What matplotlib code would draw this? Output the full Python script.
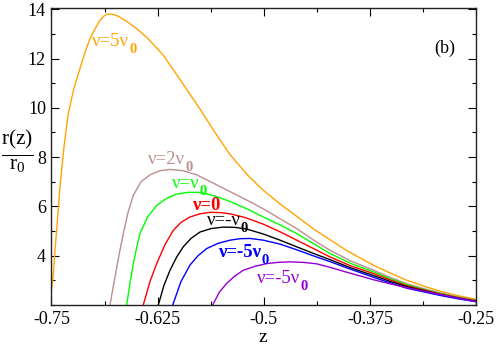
import matplotlib
matplotlib.use("Agg")
import matplotlib.pyplot as plt
from matplotlib.ticker import MultipleLocator, FixedLocator

plt.rcParams['font.family'] = ['Liberation Serif', 'DejaVu Serif']
plt.rcParams['mathtext.fontset'] = 'custom'
plt.rcParams['mathtext.rm'] = 'Liberation Serif'
plt.rcParams['mathtext.it'] = 'Liberation Serif:italic'
plt.rcParams['mathtext.bf'] = 'Liberation Serif:bold'

# ---- data ----
z_5 = [-0.75, -0.7479, -0.7459, -0.7439, -0.7420, -0.7400, -0.7353, -0.7306, -0.7235,
       -0.7164, -0.7105, -0.7047, -0.6988, -0.6929, -0.6880, -0.6846, -0.6780, -0.6717,
       -0.6611, -0.6493, -0.6375, -0.6281, -0.6187, -0.5986, -0.5751, -0.5574, -0.5397,
       -0.5185, -0.5005, -0.4808, -0.4612, -0.4420, -0.4220, -0.4019, -0.3713, -0.3513,
       -0.3313, -0.3101, -0.2924, -0.2712, -0.25]
r_5 = [2.6, 3.2, 4.2, 5.03, 5.9, 6.8, 8.4, 9.7, 10.8,
       11.6, 12.25, 12.8, 13.2, 13.55, 13.73, 13.8, 13.8, 13.72,
       13.5, 13.2, 12.85, 12.5, 12.15, 11.15, 9.95, 9.0, 8.1,
       7.25, 6.65, 6.1, 5.6, 5.1, 4.65, 4.2, 3.62, 3.3,
       3.0, 2.75, 2.56, 2.38, 2.23]

z_2 = [-0.6811, -0.6752, -0.6701, -0.6654, -0.6599, -0.6536, -0.6446, -0.6340, -0.6222,
       -0.6104, -0.5951, -0.5790, -0.5598, -0.5397, -0.5197, -0.5005, -0.4808, -0.4612,
       -0.4420, -0.4220, -0.3984, -0.3713, -0.3513, -0.3313, -0.3101, -0.2924, -0.2712,
       -0.25]
r_2 = [2.0, 3.14, 4.09, 4.9, 5.75, 6.45, 7.0, 7.28, 7.45,
       7.5, 7.45, 7.28, 6.95, 6.6, 6.25, 5.9, 5.5, 5.1,
       4.65, 4.22, 3.8, 3.42, 3.12, 2.86, 2.65, 2.49, 2.33,
       2.2]

z_1 = [-0.6614, -0.6575, -0.6536, -0.6496, -0.6458, -0.6363, -0.6261, -0.6143, -0.6025,
       -0.5892, -0.5751, -0.5574, -0.5397, -0.5197, -0.5005, -0.4808, -0.4612, -0.4420,
       -0.4220, -0.3984, -0.3713, -0.3513, -0.3313, -0.3101, -0.2924, -0.2712, -0.25]
r_1 = [2.0, 2.9, 3.68, 4.35, 4.9, 5.6, 6.04, 6.33, 6.5,
       6.57, 6.57, 6.42, 6.2, 5.9, 5.57, 5.25, 4.9, 4.5,
       4.09, 3.7, 3.35, 3.07, 2.82, 2.62, 2.47, 2.31, 2.18]

z_0 = [-0.6419, -0.6340, -0.6261, -0.6163, -0.6065, -0.5975, -0.5869, -0.5751, -0.5633,
       -0.5515, -0.5397, -0.5221, -0.5005, -0.4808, -0.4612, -0.4420, -0.4220, -0.3984,
       -0.3713, -0.3513, -0.3313, -0.3101, -0.2924, -0.2712, -0.25]
r_0 = [2.0, 2.95, 3.68, 4.45, 5.03, 5.35, 5.57, 5.7, 5.76,
       5.75, 5.7, 5.55, 5.28, 4.97, 4.63, 4.3, 3.95, 3.6,
       3.28, 3.02, 2.78, 2.6, 2.45, 2.3, 2.17]

z_m1 = [-0.6242, -0.6175, -0.6104, -0.6025, -0.5948, -0.5857, -0.5751, -0.5621, -0.5476,
        -0.5339, -0.5201, -0.5005, -0.4808, -0.4612, -0.4420, -0.4220, -0.3984, -0.3713,
        -0.3513, -0.3313, -0.3101, -0.2924, -0.2712, -0.25]
r_m1 = [2.0, 2.8, 3.41, 3.95, 4.36, 4.7, 4.96, 5.1, 5.16,
        5.15, 5.08, 4.88, 4.63, 4.36, 4.1, 3.84, 3.52, 3.2,
        2.96, 2.74, 2.57, 2.42, 2.28, 2.15]

z_m5b = [-0.6072, -0.5975, -0.5869, -0.5774, -0.5672, -0.5539, -0.5397, -0.5280, -0.5162,
         -0.5005, -0.4808, -0.4612, -0.4420, -0.4220, -0.3984, -0.3713, -0.3513, -0.3313,
         -0.3101, -0.2924, -0.2712, -0.25]
r_m5b = [2.0, 2.95, 3.62, 4.0, 4.29, 4.5, 4.63, 4.69, 4.7,
         4.63, 4.47, 4.24, 4.0, 3.76, 3.46, 3.13, 2.9, 2.68,
         2.52, 2.39, 2.25, 2.13]

z_m5v = [-0.5601, -0.5527, -0.5436, -0.5339, -0.5241, -0.5103, -0.4965, -0.4832, -0.4691,
         -0.4538, -0.4376, -0.4220, -0.4043, -0.3866, -0.3713, -0.3513, -0.3313, -0.3101,
         -0.2924, -0.2712, -0.25]
r_m5v = [2.0, 2.5, 2.88, 3.18, 3.41, 3.57, 3.68, 3.73, 3.75,
         3.73, 3.67, 3.53, 3.35, 3.18, 3.03, 2.86, 2.7, 2.55,
         2.43, 2.28, 2.14]

xticks = [-0.75, -0.625, -0.5, -0.375, -0.25]
xticklabels = ["-0.75", "-0.625", "-0.5", "-0.375", "-0.25"]
yticks = [4, 6, 8, 10, 12, 14]

# (x, y, colour, main text, subscript, weight, label anchor)
series = [
    (z_5, r_5, '#FFA500', 'ν=5ν', '0', 'normal', (-0.7023, 12.50)),
    (z_2, r_2, '#BC8F8F', 'ν=2ν', '0', 'normal', (-0.6363, 7.72)),
    (z_1, r_1, '#00FF00', 'ν=ν', '0', 'normal', (-0.6085, 6.73)),
    (z_0, r_0, '#FF0000', 'ν=0', '', 'bold', (-0.5849, 5.84)),
    (z_m1, r_m1, '#000000', 'ν=-ν', '0', 'normal', (-0.5672, 5.23)),
    (z_m5b, r_m5b, '#0000FF', 'ν=-5ν', '0', 'bold', (-0.5535, 3.95)),
    (z_m5v, r_m5v, '#9400D3', 'ν=-5ν', '0', 'normal', (-0.5083, 2.88)),
]

fig = plt.figure(figsize=(4.96, 3.46), dpi=100)
ax = fig.add_axes([0.1038, 0.1185, 0.8559, 0.8584])

for z, r, c, lab, sub, wt, pos in series:
    ax.plot(z, r, color=c, lw=1.0)
    t = ax.text(pos[0], pos[1], lab, color=c, fontsize=13.5, fontweight=wt,
                ha='left', va='baseline')
    if sub:
        ax.annotate(sub, xy=(1, 0), xycoords=t, xytext=(0.3, -2.2),
                    textcoords='offset points', color=c, fontsize=10.5,
                    fontweight='bold', ha='left', va='baseline')

ax.set_xlim(-0.75, -0.25)
ax.set_ylim(2.0, 14.05)
ax.xaxis.set_major_locator(FixedLocator(xticks))
ax.set_xticklabels(xticklabels)
ax.xaxis.set_minor_locator(MultipleLocator(0.0625))
ax.set_yticks(yticks)
ax.yaxis.set_minor_locator(MultipleLocator(1))
ax.tick_params(which='both', direction='in', top=True, right=True, labelsize=13,
               colors='black', width=0.8)
ax.tick_params(which='major', length=5.8, pad=4)
ax.tick_params(which='minor', length=3)
for s in ax.spines.values():
    s.set_linewidth(1.0)
    s.set_color('#222222')

ax.text(0.927, 0.865, '(b)', transform=ax.transAxes, fontsize=13, ha='center', va='center')
fig.text((263 / 496), 1 - 337 / 346, 'z', fontsize=14, ha='center', va='center')
fig.text(0.036, 0.565, r'$\frac{\mathrm{r(z)}}{\mathrm{r_0}}$', fontsize=22,
         ha='center', va='center')

fig.savefig('out.png', dpi=100)
